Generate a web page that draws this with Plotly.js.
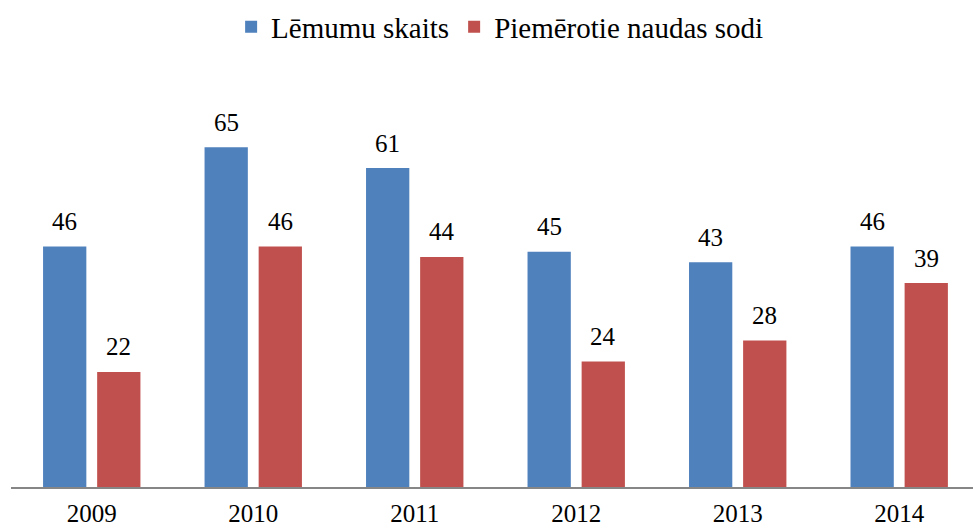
<!DOCTYPE html>
<html>
<head>
<meta charset="utf-8">
<script src="https://cdn.plot.ly/plotly-3.0.1.min.js"></script>
<style>html,body{margin:0;padding:0;background:#fff}#chart{width:973px;height:529px}</style>
</head>
<body>
<div id="chart"></div>
<script>
// years and the two series
const years = ['2009', '2010', '2011', '2012', '2013', '2014'];
const decisions = [46, 65, 61, 45, 43, 46];
const fines = [22, 46, 44, 24, 28, 39];

const font = 'Liberation Serif';

const traces = [
    {
        name: 'Lēmumu skaits',
        x: years, y: decisions,
        type: 'bar',
        marker: { color: '#4F81BD' },
        hoverinfo: 'x+y'
    },
    {
        name: 'Piemērotie naudas sodi',
        x: years, y: fines,
        type: 'bar',
        marker: { color: '#C0504D' },
        hoverinfo: 'x+y'
    }
];

// value labels above each bar (category index as x)
const annotations = [];
years.forEach((yr, i) => {
    annotations.push({ x: i, y: decisions[i], text: String(decisions[i]), xshift: -27, yshift: 25,
        showarrow: false, yanchor: 'middle', font: { family: font, size: 25, color: '#000' } });
    annotations.push({ x: i, y: fines[i], text: String(fines[i]), xshift: 27, yshift: 25,
        showarrow: false, yanchor: 'middle', font: { family: font, size: 25, color: '#000' } });
});

const layout = {
    width: 973, height: 529,
    margin: { l: 11, r: 0, t: 121, b: 42, autoexpand: false },
    barmode: 'group',
    bargap: 0.33,
    bargroupgap: 0.2,
    font: { family: font, size: 25, color: '#000' },
    showlegend: true,
    legend: {
        orientation: 'h',
        xref: 'container', x: 0.514, xanchor: 'center',
        yref: 'container', y: 0.949, yanchor: 'middle',
        font: { family: font, size: 29, color: '#000' }
    },
    xaxis: {
        type: 'category',
        range: [-0.5, 5.457],
        showline: true, linecolor: '#868686', linewidth: 2,
        ticks: '', showgrid: false, zeroline: false,
        ticklabelstandoff: 3,
        tickfont: { family: font, size: 25, color: '#000' }
    },
    yaxis: {
        range: [0, 70],
        visible: false, showgrid: false, zeroline: false
    },
    annotations: annotations,
    plot_bgcolor: '#fff',
    paper_bgcolor: '#fff'
};

Plotly.newPlot('chart', traces, layout, { displayModeBar: false });
</script>
</body>
</html>
